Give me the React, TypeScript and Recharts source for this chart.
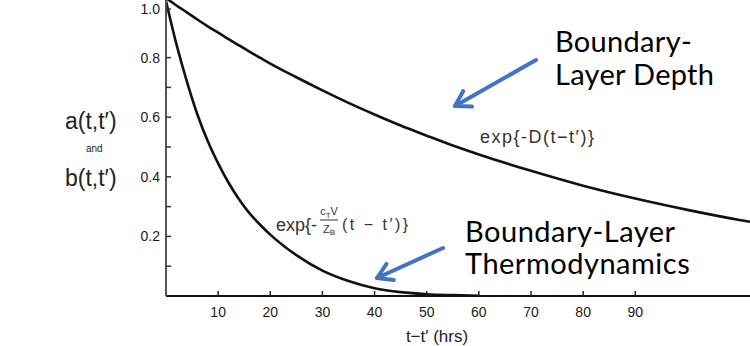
import React from "react";
import { LineChart, Line, XAxis, YAxis, ReferenceLine } from "recharts";

// elapsed time t - t' (hrs)
const hours = [0, 2, 4, 6, 8, 10, 12, 14, 16, 18, 20, 25, 30, 35, 40, 45, 50, 55, 60, 70, 80, 90, 100, 110, 112];
// exp{-D(t-t')}  (boundary-layer depth)
const depthDecay = [1.0, 0.975, 0.952, 0.928, 0.905, 0.884, 0.862, 0.841, 0.82, 0.8, 0.78, 0.734, 0.69, 0.648, 0.609, 0.572, 0.538, 0.505, 0.475, 0.42, 0.37, 0.327, 0.289, 0.255, 0.249];
// exp{-(cT V / ZB)(t-t')}  (boundary-layer thermodynamics)
const thermoDecay = [0.99, 0.845, 0.72, 0.61, 0.52, 0.445, 0.38, 0.325, 0.278, 0.24, 0.206, 0.137, 0.085, 0.05, 0.026, 0.013, 0.006, 0.003, 0.001, null, null, null, null, null, null];

const xTicks = [10, 20, 30, 40, 50, 60, 70, 80, 90];
const yTicks = [0.1, 0.2, 0.3, 0.4, 0.5, 0.6, 0.7, 0.8, 0.9, 1.0];
const yLabelled = [0.2, 0.4, 0.6, 0.8, 1.0];

const data = hours.map((t, i) => ({ t, a: depthDecay[i], b: thermoDecay[i] }));

const tickFont = "'Liberation Sans', Arial, sans-serif";
const noteFont = "Lato, 'Noto Sans', sans-serif";
const blue = "#4472C4";

const XTick = (props: any) => {
  const { x, y, payload } = props;
  return (
    <g>
      <line x1={x} y1={y} x2={x} y2={y - 5} stroke="#222" strokeWidth={1.5} />
      <text x={x} y={y + 21} textAnchor="middle" fontFamily={tickFont} fontSize={14} fill="#1a1a1a">
        {payload.value}
      </text>
    </g>
  );
};

const YTick = (props: any) => {
  const { x, y, payload } = props;
  const major = yLabelled.includes(Math.round(payload.value * 10) / 10);
  return (
    <g>
      <line x1={x} y1={y} x2={x + 5} y2={y} stroke="#333" strokeWidth={1.5} />
      {major && (
        <text x={x - 6} y={y + 5} textAnchor="end" fontFamily={tickFont} fontSize={14} fill="#1a1a1a">
          {payload.value.toFixed(1)}
        </text>
      )}
    </g>
  );
};

function Arrow({ x1, y1, x2, y2 }: { x1: number; y1: number; x2: number; y2: number }) {
  const ang = Math.atan2(y2 - y1, x2 - x1);
  const len = 17;
  const spread = 0.55;
  const ax = x2 - len * Math.cos(ang - spread);
  const ay = y2 - len * Math.sin(ang - spread);
  const bx = x2 - len * Math.cos(ang + spread);
  const by = y2 - len * Math.sin(ang + spread);
  return (
    <g stroke={blue} strokeWidth={4} fill="none" strokeLinecap="round" strokeLinejoin="round">
      <line x1={x1} y1={y1} x2={x2} y2={y2} />
      <polyline points={`${ax},${ay} ${x2},${y2} ${bx},${by}`} />
    </g>
  );
}

export default function App() {
  return (
    <div style={{ position: "absolute", left: 0, top: 0, width: 750, height: 346, background: "#fff", overflow: "hidden" }}>
      <LineChart width={750} height={346} data={data} margin={{ top: -2, right: 0, left: 0, bottom: 0 }}>
        <XAxis
          dataKey="t"
          type="number"
          domain={[0, 112]}
          ticks={xTicks}
          height={50}
          tickSize={0}
          tickMargin={0}
          tick={<XTick />}
          axisLine={{ stroke: "#111", strokeWidth: 2 }}
          tickLine={false}
          allowDataOverflow
        />
        <YAxis
          type="number"
          domain={[0, 1]}
          ticks={yTicks}
          width={166}
          tickSize={0}
          tickMargin={0}
          tick={<YTick />}
          axisLine={{ stroke: "#555", strokeWidth: 2 }}
          tickLine={false}
          allowDataOverflow
        />
        <ReferenceLine y={1} stroke="#bbb" strokeWidth={1} />
        <Line dataKey="a" type="monotone" stroke="#111" strokeWidth={2.6} dot={false} isAnimationActive={false} />
        <Line dataKey="b" type="monotone" stroke="#111" strokeWidth={2.6} dot={false} isAnimationActive={false} connectNulls={false} />
      </LineChart>

      <svg width={750} height={346} style={{ position: "absolute", left: 0, top: 0, pointerEvents: "none" }}>
        {/* y-axis label */}
        <text x={65} y={129} fontFamily={tickFont} fontSize={23} fill="#222">a(t,t′)</text>
        <text x={86} y={152} fontFamily={tickFont} fontSize={10} fill="#222">and</text>
        <text x={65} y={186} fontFamily={tickFont} fontSize={23} fill="#222">b(t,t′)</text>

        {/* x-axis label */}
        <text x={437} y={342} textAnchor="middle" fontFamily={tickFont} fontSize={17} fill="#222">t−t′ (hrs)</text>

        {/* curve formulas */}
        <text x={480} y={143} fontFamily={tickFont} fontSize={18} letterSpacing={1.5} fill="#333">{"exp{-D(t−t′)}"}</text>
        <text x={276} y={231} fontFamily={tickFont} fontSize={18} fill="#333">{"exp{-"}</text>
        <text x={329} y={215} textAnchor="middle" fontFamily={tickFont} fontSize={11} fill="#333">
          c<tspan fontSize={8} dy={3}>T</tspan><tspan dy={-3}>V</tspan>
        </text>
        <line x1={320} y1={220} x2={338} y2={220} stroke="#333" strokeWidth={1} />
        <text x={329} y={233} textAnchor="middle" fontFamily={tickFont} fontSize={11} fill="#333">
          Z<tspan fontSize={8} dy={2}>B</tspan>
        </text>
        <text x={342} y={230} fontFamily={tickFont} fontSize={16} letterSpacing={2.5} fill="#333">{"(t − t′)}"}</text>

        {/* annotations */}
        <text x={555} y={52} fontFamily={noteFont} fontSize={29} letterSpacing={0.3} fill="#000">Boundary-</text>
        <text x={555} y={85} fontFamily={noteFont} fontSize={29} letterSpacing={0.3} fill="#000">Layer Depth</text>
        <Arrow x1={536} y1={60} x2={455} y2={106} />

        <text x={465} y={242} fontFamily={noteFont} fontSize={29} letterSpacing={0.5} fill="#000">Boundary-Layer</text>
        <text x={465} y={274} fontFamily={noteFont} fontSize={29} letterSpacing={0.5} fill="#000">Thermodynamics</text>
        <Arrow x1={443} y1={248} x2={377} y2={278} />
      </svg>
    </div>
  );
}
